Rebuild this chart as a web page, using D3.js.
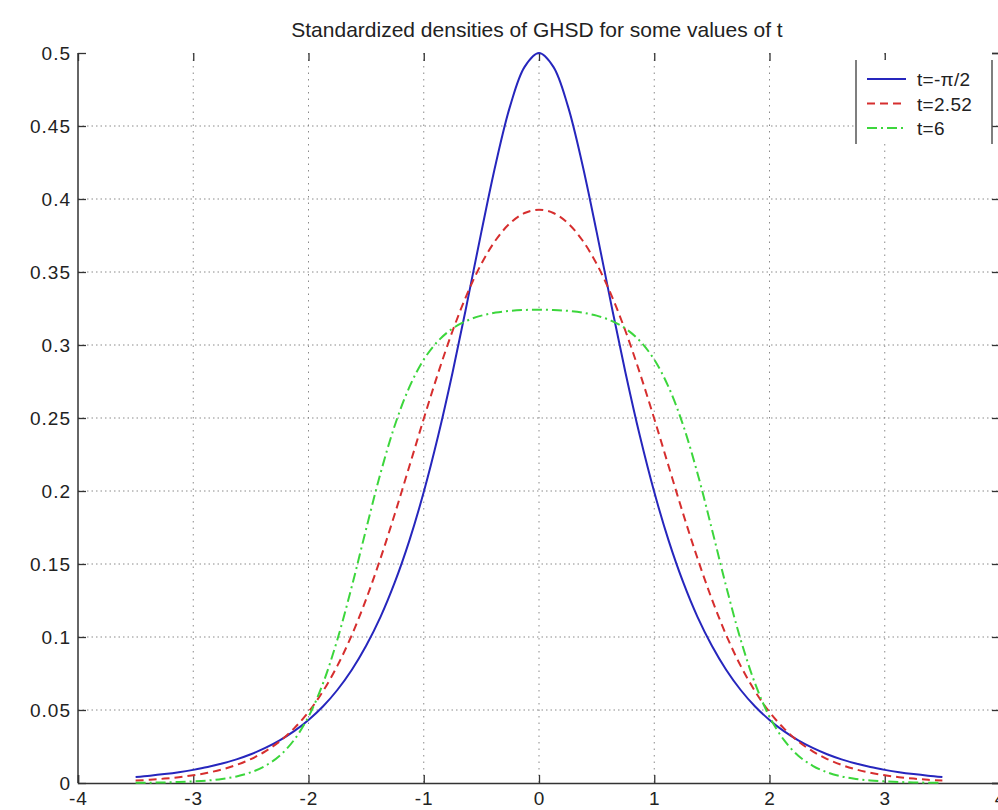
<!DOCTYPE html>
<html>
<head>
<meta charset="utf-8">
<script src="https://cdnjs.cloudflare.com/ajax/libs/d3/7.8.5/d3.min.js"></script>
<style>
    body { margin: 0; background: #fff; }
    svg { display: block; font-family: "Liberation Sans", Arial, sans-serif; }
</style>
</head>
<body>
<svg></svg>
<script>
// sampled every 0.125 from -3.5 to 3.5 (curves are symmetric)
var xs = [-3.5, -3.375, -3.25, -3.125, -3, -2.875, -2.75, -2.625, -2.5, -2.375, -2.25, -2.125, -2, -1.875, -1.75, -1.625,
    -1.5, -1.375, -1.25, -1.125, -1, -0.875, -0.75, -0.625, -0.5, -0.375, -0.25, -0.125, 0,
    0.125, 0.25, 0.375, 0.5, 0.625, 0.75, 0.875, 1, 1.125, 1.25, 1.375, 1.5, 1.625, 1.75, 1.875,
    2, 2.125, 2.25, 2.375, 2.5, 2.625, 2.75, 2.875, 3, 3.125, 3.25, 3.375, 3.5];
var blueVals = [0.0041, 0.0050, 0.0061, 0.0074, 0.0090, 0.0109, 0.0133, 0.0162, 0.0197, 0.0240, 0.0292, 0.0355, 0.0432, 0.0524, 0.0637, 0.0774,
    0.0940, 0.1138, 0.1377, 0.1660, 0.1993, 0.2378, 0.2812, 0.3285, 0.3775, 0.4242, 0.4638, 0.4905, 0.5000,
    0.4905, 0.4638, 0.4242, 0.3775, 0.3285, 0.2812, 0.2378, 0.1993, 0.1660, 0.1377, 0.1138, 0.0940, 0.0774, 0.0637, 0.0524,
    0.0432, 0.0355, 0.0292, 0.0240, 0.0197, 0.0162, 0.0133, 0.0109, 0.0090, 0.0074, 0.0061, 0.0050, 0.0041];
var redVals = [0.0017, 0.0022, 0.0030, 0.0040, 0.0053, 0.0070, 0.0093, 0.0124, 0.0164, 0.0217, 0.0285, 0.0374, 0.0486, 0.0628, 0.0802, 0.1012,
    0.1259, 0.1539, 0.1846, 0.2169, 0.2495, 0.2808, 0.3096, 0.3347, 0.3556, 0.3719, 0.3835, 0.3904, 0.3927,
    0.3904, 0.3835, 0.3719, 0.3556, 0.3347, 0.3096, 0.2808, 0.2495, 0.2169, 0.1846, 0.1539, 0.1259, 0.1012, 0.0802, 0.0628,
    0.0486, 0.0374, 0.0285, 0.0217, 0.0164, 0.0124, 0.0093, 0.0070, 0.0053, 0.0040, 0.0030, 0.0022, 0.0017];
var greenVals = [0.0002, 0.0002, 0.0004, 0.0007, 0.0011, 0.0017, 0.0028, 0.0045, 0.0073, 0.0118, 0.0187, 0.0295, 0.0454, 0.0681, 0.0981, 0.1344,
    0.1739, 0.2122, 0.2452, 0.2711, 0.2900, 0.3028, 0.3113, 0.3167, 0.3201, 0.3222, 0.3234, 0.3240, 0.3242,
    0.3240, 0.3234, 0.3222, 0.3201, 0.3167, 0.3113, 0.3028, 0.2900, 0.2711, 0.2452, 0.2122, 0.1739, 0.1344, 0.0981, 0.0681,
    0.0454, 0.0295, 0.0187, 0.0118, 0.0073, 0.0045, 0.0028, 0.0017, 0.0011, 0.0007, 0.0004, 0.0002, 0.0002];
var labels = ["t=-\u03c0/2", "t=2.52", "t=6"];
var xTicks = [-4, -3, -2, -1, 0, 1, 2, 3, 4];
var yTicks = [0, 0.05, 0.1, 0.15, 0.2, 0.25, 0.3, 0.35, 0.4, 0.45, 0.5];
var yTickLabels = ["0", "0.05", "0.1", "0.15", "0.2", "0.25", "0.3", "0.35", "0.4", "0.45", "0.5"];

var W = 998, H = 810;
var svg = d3.select("svg").attr("width", W).attr("height", H);
var x = d3.scaleLinear().domain([-4, 4]).range([78, 1000]);
var y = d3.scaleLinear().domain([0, 0.5]).range([783, 53]);

var series = [
    { vals: blueVals, color: "#2626bd", dash: null },
    { vals: redVals, color: "#d62e2e", dash: "8,5" },
    { vals: greenVals, color: "#3cd63c", dash: "10,4,2,4" }
];

// grid
svg.append("g").selectAll("line").data(xTicks.slice(1, -1)).enter().append("line")
    .attr("x1", function (d) { return x(d); }).attr("x2", function (d) { return x(d); })
    .attr("y1", y(0.5)).attr("y2", y(0))
    .attr("stroke", "#8a8a8a").attr("stroke-dasharray", "1.5,5");
svg.append("g").selectAll("line").data(yTicks.slice(1, -1)).enter().append("line")
    .attr("x1", x(-4)).attr("x2", x(4))
    .attr("y1", function (d) { return y(d); }).attr("y2", function (d) { return y(d); })
    .attr("stroke", "#8a8a8a").attr("stroke-dasharray", "1.5,3");

// axes, ticks point inward
var gx = svg.append("g").attr("transform", "translate(0," + y(0) + ")")
    .call(d3.axisBottom(x).tickValues(xTicks).tickSize(-8).tickPadding(9).tickFormat(function (d) { return String(d); }));
var gxt = svg.append("g").attr("transform", "translate(0," + y(0.5) + ")")
    .call(d3.axisTop(x).tickValues(xTicks).tickSize(-8).tickFormat(""));
var gy = svg.append("g").attr("transform", "translate(" + x(-4) + ",0)")
    .call(d3.axisLeft(y).tickValues(yTicks).tickSize(-8).tickPadding(7).tickFormat(function (d, i) { return yTickLabels[i]; }));
var gyr = svg.append("g").attr("transform", "translate(" + x(4) + ",0)")
    .call(d3.axisRight(y).tickValues(yTicks).tickSize(-8).tickFormat(""));
gxt.select(".domain").remove();
gy.select(".domain").attr("d", "M0," + y(0.5) + "V" + y(0));
[gx, gxt, gy, gyr].forEach(function (g) {
    g.selectAll("line").attr("stroke", "#333").attr("stroke-width", 1.3);
    g.select(".domain").attr("stroke", "#333").attr("stroke-width", 1.5);
    g.selectAll("text").attr("fill", "#222").attr("font-size", 19).attr("letter-spacing", 1)
        .attr("font-family", "Liberation Sans, Arial, sans-serif");
});

// curves
var line = d3.line()
    .x(function (d) { return x(d[0]); })
    .y(function (d) { return y(d[1]); })
    .curve(d3.curveCatmullRom);
series.forEach(function (s) {
    svg.append("path")
        .datum(xs.map(function (v, i) { return [v, s.vals[i]]; }))
        .attr("d", line)
        .attr("fill", "none")
        .attr("stroke", s.color)
        .attr("stroke-width", 2)
        .attr("stroke-dasharray", s.dash);
});

// title
svg.append("text").attr("x", 537).attr("y", 37).attr("text-anchor", "middle")
    .attr("font-size", 21).attr("fill", "#222")
    .text("Standardized densities of GHSD for some values of t");

// legend
var lg = svg.append("g");
lg.append("rect").attr("x", 856).attr("y", 60).attr("width", 136).attr("height", 84).attr("fill", "#fff");
lg.selectAll("line.side").data([856, 992]).enter().append("line").attr("class", "side")
    .attr("x1", function (d) { return d; }).attr("x2", function (d) { return d; })
    .attr("y1", 60).attr("y2", 144).attr("stroke", "#555").attr("stroke-width", 1.5);
series.forEach(function (s, i) {
    var yy = 79 + i * 24.5;
    lg.append("line").attr("x1", 867).attr("x2", 906).attr("y1", yy).attr("y2", yy)
        .attr("stroke", s.color).attr("stroke-width", 2).attr("stroke-dasharray", s.dash);
    lg.append("text").attr("x", 917).attr("y", yy + 7).attr("font-size", 19).attr("letter-spacing", 0.3)
        .attr("fill", "#222").text(labels[i]);
});
</script>
</body>
</html>
